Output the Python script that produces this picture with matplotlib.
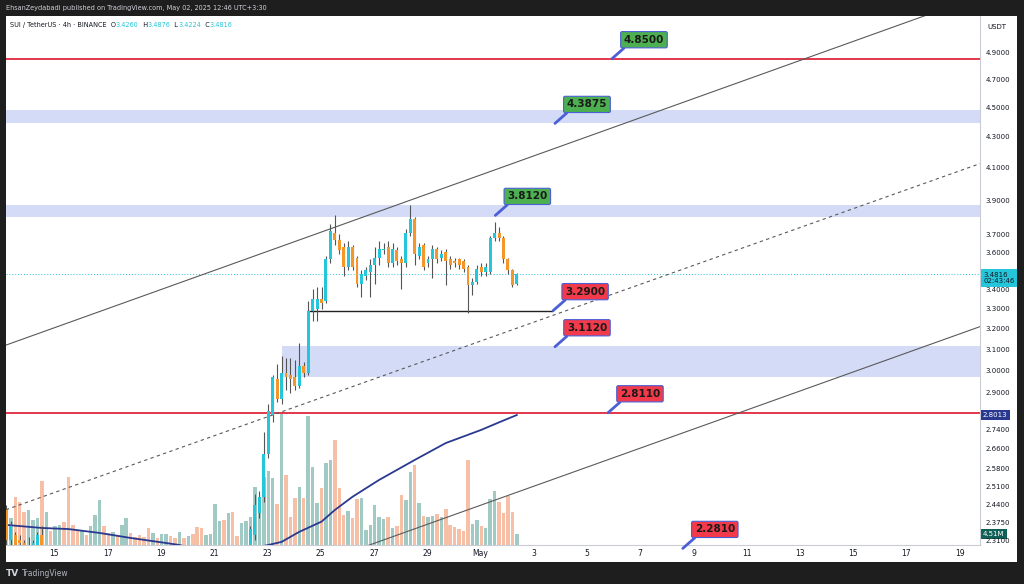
"""SUI / TetherUS 4h chart redrawn in a TradingView look"""
import numpy as np
import matplotlib.pyplot as plt
from matplotlib.patches import Rectangle
from matplotlib.ticker import NullLocator

# ---- data (days are days of April, May 1 = 31) ----
t_first = 13.2
bars_per_day = 6

opens = [2.42, 2.31, 2.33, 2.31, 2.30, 2.27, 2.29, 2.29, 2.33, 2.22,
         2.25, 2.21, 2.23, 2.25, 2.20, 2.10, 2.08, 2.06, 2.09, 2.07,
         2.10, 2.13, 2.18, 2.15, 2.14, 2.15, 2.13, 2.15, 2.18, 2.16,
         2.15, 2.14, 2.13, 2.11, 2.12, 2.11, 2.12, 2.13, 2.12, 2.11,
         2.13, 2.12, 2.13, 2.12, 2.10, 2.08, 2.09, 2.10, 2.15, 2.18,
         2.16, 2.19, 2.17, 2.16, 2.19, 2.24, 2.33, 2.41, 2.47, 2.64,
         2.80, 2.96, 2.87, 2.99, 2.98, 2.97, 2.93, 3.02, 2.99, 3.29,
         3.30, 3.35, 3.34, 3.56, 3.71, 3.67, 3.63, 3.52, 3.63, 3.57,
         3.43, 3.47, 3.49, 3.53, 3.57, 3.61, 3.63, 3.54, 3.61, 3.56,
         3.54, 3.71, 3.79, 3.58, 3.64, 3.54, 3.56, 3.62, 3.57, 3.60,
         3.56, 3.55, 3.56, 3.55, 3.52, 3.42, 3.44, 3.52, 3.49, 3.49,
         3.68, 3.71, 3.68, 3.56, 3.50, 3.426]
highs = [2.44, 2.38, 2.34, 2.33, 2.31, 2.32, 2.31, 2.34, 2.36, 2.27,
         2.26, 2.25, 2.27, 2.26, 2.21, 2.12, 2.10, 2.11, 2.10, 2.12,
         2.15, 2.20, 2.19, 2.17, 2.17, 2.16, 2.16, 2.20, 2.19, 2.17,
         2.16, 2.15, 2.14, 2.13, 2.13, 2.13, 2.14, 2.14, 2.13, 2.14,
         2.14, 2.14, 2.14, 2.13, 2.11, 2.10, 2.11, 2.16, 2.20, 2.19,
         2.21, 2.20, 2.18, 2.20, 2.26, 2.36, 2.48, 2.49, 2.73, 2.85,
         2.98, 3.03, 3.07, 3.06, 3.06, 3.05, 3.13, 3.04, 3.34, 3.40,
         3.41, 3.41, 3.58, 3.76, 3.81, 3.70, 3.65, 3.66, 3.64, 3.58,
         3.50, 3.52, 3.56, 3.63, 3.66, 3.65, 3.66, 3.65, 3.63, 3.58,
         3.73, 3.87, 3.80, 3.65, 3.65, 3.58, 3.64, 3.63, 3.61, 3.62,
         3.58, 3.57, 3.57, 3.56, 3.53, 3.46, 3.53, 3.54, 3.54, 3.69,
         3.77, 3.74, 3.69, 3.57, 3.51, 3.4876]
lows = [2.29, 2.29, 2.27, 2.28, 2.25, 2.26, 2.27, 2.28, 2.20, 2.20,
        2.19, 2.20, 2.22, 2.18, 2.08, 2.06, 2.04, 2.05, 2.06, 2.06,
        2.09, 2.12, 2.14, 2.13, 2.13, 2.12, 2.12, 2.14, 2.15, 2.14,
        2.13, 2.12, 2.10, 2.10, 2.10, 2.10, 2.11, 2.11, 2.10, 2.10,
        2.11, 2.11, 2.11, 2.09, 2.06, 2.07, 2.08, 2.09, 2.14, 2.15,
        2.15, 2.16, 2.15, 2.15, 2.18, 2.23, 2.31, 2.39, 2.45, 2.62,
        2.77, 2.86, 2.85, 2.91, 2.90, 2.91, 2.92, 2.97, 2.98, 3.24,
        3.24, 3.30, 3.33, 3.54, 3.64, 3.59, 3.47, 3.50, 3.50, 3.41,
        3.36, 3.45, 3.36, 3.43, 3.53, 3.59, 3.52, 3.52, 3.53, 3.40,
        3.52, 3.69, 3.53, 3.56, 3.50, 3.52, 3.46, 3.54, 3.55, 3.42,
        3.51, 3.52, 3.51, 3.49, 3.28, 3.37, 3.43, 3.47, 3.47, 3.48,
        3.66, 3.66, 3.54, 3.48, 3.41, 3.4224]
closes = [2.31, 2.36, 2.29, 2.30, 2.27, 2.29, 2.30, 2.33, 2.22, 2.25,
          2.21, 2.23, 2.25, 2.20, 2.10, 2.08, 2.06, 2.09, 2.07, 2.10,
          2.13, 2.18, 2.15, 2.14, 2.15, 2.13, 2.15, 2.18, 2.16, 2.15,
          2.14, 2.13, 2.11, 2.12, 2.11, 2.12, 2.13, 2.12, 2.11, 2.13,
          2.12, 2.13, 2.12, 2.10, 2.08, 2.09, 2.10, 2.15, 2.18, 2.16,
          2.19, 2.17, 2.16, 2.19, 2.24, 2.35, 2.44, 2.47, 2.64, 2.82,
          2.97, 2.87, 2.99, 2.97, 2.96, 2.93, 3.02, 2.99, 3.29, 3.35,
          3.35, 3.33, 3.56, 3.72, 3.67, 3.61, 3.52, 3.63, 3.52, 3.43,
          3.48, 3.50, 3.53, 3.57, 3.62, 3.62, 3.54, 3.62, 3.55, 3.54,
          3.71, 3.79, 3.59, 3.63, 3.52, 3.56, 3.62, 3.56, 3.59, 3.55,
          3.53, 3.54, 3.53, 3.51, 3.42, 3.44, 3.51, 3.49, 3.52, 3.68,
          3.71, 3.68, 3.56, 3.50, 3.42, 3.4816]
volume_m = [13.1, 11.1, 19.7, 17.6, 13.5, 14.4, 10.3, 11.1, 26.2, 13.5,
            5.7, 7.8, 8.2, 9.4, 27.9, 8.2, 5.7, 5.7, 4.1, 7.8,
            12.3, 18.5, 7.8, 4.9, 5.3, 4.1, 8.2, 11.1, 4.9, 3.3,
            4.1, 3.3, 7.0, 4.9, 2.9, 4.5, 4.5, 3.7, 2.9, 5.3,
            2.9, 3.7, 4.5, 7.4, 7.0, 4.1, 4.5, 16.8, 9.8, 10.3,
            13.1, 13.5, 3.7, 9.0, 9.8, 11.5, 23.8, 19.3, 27.9, 30.3,
            27.5, 16.8, 54.5, 28.7, 11.5, 19.3, 23.8, 19.3, 52.9, 32.0,
            17.2, 23.4, 33.6, 34.9, 43.1, 23.4, 12.3, 13.9, 11.1, 18.9,
            19.3, 6.2, 8.2, 16.4, 11.5, 10.7, 11.5, 7.0, 7.8, 20.5,
            18.5, 29.9, 32.8, 17.2, 11.9, 11.5, 11.9, 12.7, 11.5, 14.8,
            8.2, 7.4, 6.6, 5.7, 34.9, 8.6, 10.3, 7.8, 7.0, 18.9,
            22.1, 17.6, 13.1, 20.1, 13.5, 4.51]

# moving average (candle index, value)
ma_idx = [0, 8, 14, 21, 28, 36, 39, 45, 52, 59, 62, 66, 71, 74, 78,
          84, 92, 99, 107, 111, 115]
ma_vals = [2.365, 2.354, 2.35, 2.336, 2.318, 2.30, 2.293, 2.268, 2.27,
           2.293, 2.304, 2.34, 2.377, 2.42, 2.47, 2.535, 2.614, 2.683,
           2.738, 2.77, 2.8013]

# 3.5000 and 2.8000 sit under the price tags in the original, so they are left out
price_ticks = [4.9, 4.7, 4.5, 4.3, 4.1, 3.9, 3.7, 3.6, 3.4, 3.3, 3.2,
               3.1, 3.0, 2.9, 2.74, 2.66, 2.58, 2.51, 2.44, 2.375, 2.31]
date_ticks = [15, 17, 19, 21, 23, 25, 27, 29, 31, 33, 35, 37, 39, 41, 43,
              45, 47, 49]
date_labels = ["15", "17", "19", "21", "23", "25", "27", "29", "May", "3",
               "5", "7", "9", "11", "13", "15", "17", "19"]

red_levels = [4.85, 2.811]
band_lo = [4.39, 3.80, 2.97]
band_hi = [4.48, 3.87, 3.117]
band_start = [None, None, 23.55]
support_price = 3.29
support_days = (24.49, 33.73)

chan_days = [(13.186, 47.70), (13.186, 37.48), (33.24, 49.76)]
chan_prices = [(3.12, 5.183), (2.421, 3.45), (2.519, 3.21)]
chan_dashed = [False, True, False]

label_text = ["4.8500", "4.3875", "3.8120", "3.2900", "3.1120", "2.8110", "2.2810"]
label_day = [35.94, 33.80, 31.56, 33.73, 33.80, 35.79, 38.60]
label_price = [4.85, 4.39, 3.81, 3.29, 3.112, 2.811, 2.281]
label_green = [True, True, True, False, False, False, False]

# ---- layout ----
W, H = 1024, 584
DAY_LO, DAY_HI = 13.186, 49.76
P_LO, P_HI = 2.293, 5.18
UP, DOWN = "#26c6da", "#f5962a"
VOL_UP, VOL_DOWN = "#a2cac5", "#f7bfa5"
BAND = "#d3dbf6"
RED = "#e3374a"
TXT = "#131722"
EDGE_BLUE = "#4b5fd6"


def px_rect(x0, y0, x1, y1):
    """pixel box with top-left origin -> figure fraction rect"""
    return [x0 / W, 1 - y1 / H, (x1 - x0) / W, (y1 - y0) / H]


fig = plt.figure(figsize=(W / 100, H / 100), dpi=100, facecolor="#1e1e1e")
fig.add_artist(Rectangle((6 / W, 1 - 562 / H), 1011 / W, 546 / H,
                         transform=fig.transFigure, facecolor="white",
                         edgecolor="none", zorder=-1))

ax = fig.add_axes(px_rect(6, 16, 980, 545))
ax_vol = fig.add_axes(px_rect(6, 16, 980, 545), sharex=ax)
ax_vol.set_zorder(1)
ax.set_zorder(2)
ax.patch.set_visible(False)
ax_vol.patch.set_visible(False)

t = t_first + np.arange(len(closes)) / bars_per_day
o = np.array(opens)
c = np.array(closes)
up = c >= o

# volume
ax_vol.bar(t, volume_m, width=0.13, color=np.where(up, VOL_UP, VOL_DOWN),
           linewidth=0)
ax_vol.set_ylim(0, 216.9)
ax_vol.tick_params(left=False, labelleft=False, bottom=False, labelbottom=False)
for s in ax_vol.spines.values():
    s.set_visible(False)

ax.set_yscale("log")
ax.set_xlim(DAY_LO, DAY_HI)
ax.set_ylim(P_LO, P_HI)

# zones and levels
for lo, hi, start in zip(band_lo, band_hi, band_start):
    x0 = DAY_LO if start is None else start
    ax.fill_between([x0, DAY_HI], lo, hi, color=BAND, linewidth=0, zorder=1)
for lvl in red_levels:
    ax.axhline(lvl, color=RED, lw=1.4, zorder=2)
ax.hlines(support_price, *support_days, color="#222222", lw=1.0, zorder=2)
ax.axhline(closes[-1], color=UP, lw=0.7, ls=(0, (1, 2)), zorder=2)

# channel
for (d0, d1), (p0, p1), dashed in zip(chan_days, chan_prices, chan_dashed):
    k = (np.log(p1) - np.log(p0)) / (d1 - d0)
    xs = np.array([DAY_LO, DAY_HI])
    ys = np.exp(np.log(p0) + k * (xs - d0))
    ax.plot(xs, ys, color="#5a5a5a", lw=0.8,
            ls=(0, (3, 3)) if dashed else "-", zorder=2)

# moving average
ax.plot(t_first + np.array(ma_idx) / bars_per_day, ma_vals,
        color="#2a3990", lw=1.3, zorder=3)

# candles
ax.vlines(t, lows, highs, color="#555555", lw=0.8, zorder=4)
ax.bar(t, np.abs(c - o), bottom=np.minimum(o, c), width=0.11,
       color=np.where(up, UP, DOWN), linewidth=0, zorder=5)

# level labels
for txt, d, p, green in zip(label_text, label_day, label_price, label_green):
    ax.annotate(txt, xy=(d, p), xytext=(32, 19), textcoords="offset pixels",
                ha="center", va="center", fontsize=7.5, fontweight="bold",
                color="#1a1a1a", annotation_clip=False, zorder=8,
                bbox=dict(boxstyle="round,pad=0.3,rounding_size=0.15",
                          fc="#4caf50" if green else "#f23a4b",
                          ec=EDGE_BLUE, lw=0.8),
                arrowprops=dict(arrowstyle="-", color=EDGE_BLUE, lw=2,
                                shrinkA=0, shrinkB=0, relpos=(0.1, 0.0)))

# axes look
ax.yaxis.tick_right()
ax.yaxis.set_minor_locator(NullLocator())
ax.set_yticks(price_ticks)
ax.set_yticklabels([f"{v:.4f}" for v in price_ticks])
ax.set_xticks(date_ticks)
ax.set_xticklabels(date_labels)
ax.tick_params(axis="y", length=0, pad=4, labelsize=5, labelcolor=TXT)
ax.tick_params(axis="x", length=0, pad=3, labelsize=5.5, labelcolor=TXT)
ax.spines["top"].set_visible(False)
ax.spines["left"].set_visible(False)
for side in ("right", "bottom"):
    ax.spines[side].set_color("#c9ccd4")
    ax.spines[side].set_linewidth(0.8)

# tags on the price scale
ax.annotate(f"{closes[-1]:.4f}\n02:43:46", xy=(1, closes[-1]),
            xycoords=("axes fraction", "data"), xytext=(3, -4),
            textcoords="offset pixels", ha="left", va="center", fontsize=5,
            color=TXT, linespacing=1.1, annotation_clip=False, zorder=9,
            bbox=dict(boxstyle="square,pad=0.35", fc=UP, ec="none"))
ax.annotate(f"{ma_vals[-1]:.4f}", xy=(1, ma_vals[-1]),
            xycoords=("axes fraction", "data"), xytext=(3, 0),
            textcoords="offset pixels", ha="left", va="center", fontsize=5,
            color="white", annotation_clip=False, zorder=9,
            bbox=dict(boxstyle="square,pad=0.3", fc="#2a3990", ec="none"))
ax_vol.annotate(f"{volume_m[-1]:.2f}M", xy=(1, volume_m[-1]),
                xycoords=("axes fraction", "data"), xytext=(3, 0),
                textcoords="offset pixels", ha="left", va="center",
                fontsize=5, color="white", annotation_clip=False, zorder=9,
                bbox=dict(boxstyle="square,pad=0.3", fc="#0f6157", ec="none"))
fig.text(997 / W, 1 - 27 / H, "USDT", fontsize=5, color=TXT,
         ha="center", va="center")

# header texts
fig.text(6 / W, 1 - 8 / H,
         "EhsanZeydabadi published on TradingView.com, May 02, 2025 12:46 UTC+3:30",
         fontsize=4.7, color="#d1d4dc", va="center")
pieces = [("SUI / TetherUS · 4h · BINANCE  O", TXT),
          (f"{opens[-1]:.4f}", UP), ("  H", TXT), (f"{highs[-1]:.4f}", UP),
          ("  L", TXT), (f"{lows[-1]:.4f}", UP), ("  C", TXT),
          (f"{closes[-1]:.4f}", UP)]
prev = fig.text(10 / W, 1 - 25 / H, pieces[0][0], fontsize=4.7,
                color=pieces[0][1], va="center")
for txt, col in pieces[1:]:
    prev = ax.annotate(txt, xy=(1, 0), xycoords=prev, va="bottom",
                       ha="left", fontsize=4.7, color=col,
                       annotation_clip=False)

# footer
fig.text(6 / W, 1 - 573 / H, "TV", fontsize=6.5, fontweight="heavy",
         color="#d1d4dc", va="center")
fig.text(22 / W, 1 - 573 / H, "TradingView", fontsize=5.5,
         color="#b2b5be", va="center")

fig.savefig("out.png", dpi=100, facecolor=fig.get_facecolor())
